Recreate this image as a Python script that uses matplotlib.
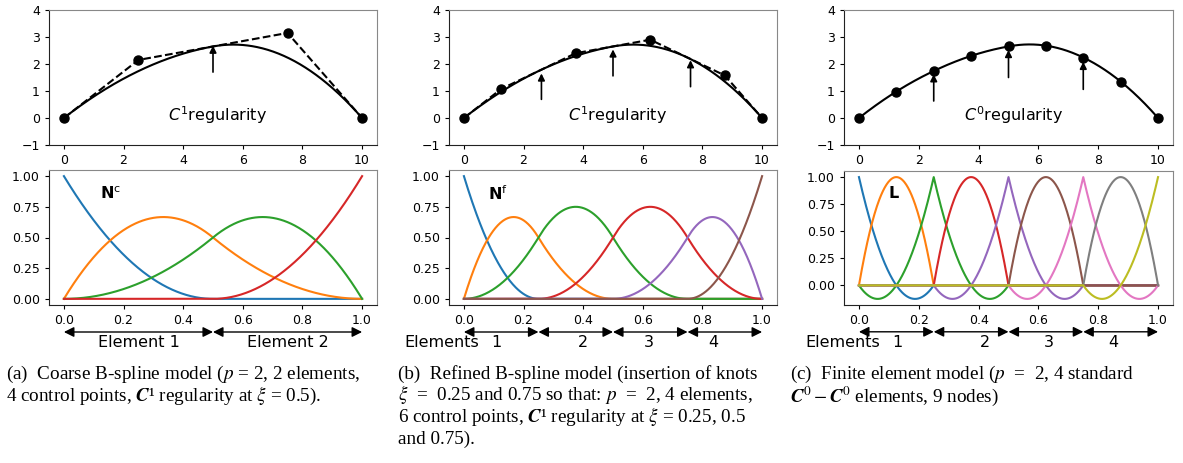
import numpy as np
import matplotlib
matplotlib.use("Agg")
from matplotlib import pyplot as plt

# data
p = 2
knots_coarse = [0, 0, 0, 0.5, 1, 1, 1]
ctrl_x_coarse = [0, 2.5, 7.5, 10]
ctrl_y_coarse = [0, 2.15, 3.15, 0]

knots_fine = [0, 0, 0, 0.25, 0.5, 0.75, 1, 1, 1]
ctrl_x_fine = [0, 1.25, 3.75, 6.25, 8.75, 10]
ctrl_y_fine = [0, 1.075, 2.4, 2.9, 1.575, 0]

fe_nodes_xi = [0, 0.125, 0.25, 0.375, 0.5, 0.625, 0.75, 0.875, 1]
fe_nodes_x = [0, 1.25, 2.5, 3.75, 5, 6.25, 7.5, 8.75, 10]
fe_nodes_y = [0, 0.98, 1.74, 2.3, 2.65, 2.68, 2.24, 1.35, 0]

# regularity arrows (x, tail y, tip y)
arrows_a = [(5.0, 1.7, 2.68)]
arrows_b = [(2.6, 0.69, 1.65), (5.0, 1.56, 2.54), (7.6, 1.16, 2.14)]
arrows_c = [(2.5, 0.63, 1.62), (5.0, 1.5, 2.52), (7.5, 1.06, 2.08)]

elem_bounds_a = [0, 0.5, 1]
elem_bounds_b = [0, 0.25, 0.5, 0.75, 1]
elem_labels_a = ["Element 1", "Element 2"]
elem_num_pos_b = [0.11, 0.40, 0.62, 0.835]
elem_num_pos_c = [0.13, 0.42, 0.635, 0.85]
elem_nums = ["1", "2", "3", "4"]

captions = [
    ["(a)  Coarse B-spline model ($p$ = 2, 2 elements,",
     "4 control points, $\\mathbfit{C}$\u00b9 regularity at $\\xi$ = 0.5)."],
    ["(b)  Refined B-spline model (insertion of knots",
     "$\\xi$  =  0.25 and 0.75 so that: $p$  =  2, 4 elements,",
     "6 control points, $\\mathbfit{C}$\u00b9 regularity at $\\xi$ = 0.25, 0.5",
     "and 0.75)."],
    ["(c)  Finite element model ($p$  =  2, 4 standard",
     "$\\mathbfit{C}^0 - \\mathbfit{C}^0$ elements, 9 nodes)"],
]


def bspline_basis(knots, deg, xi):
    t = np.asarray(knots, float)
    N = np.zeros((len(xi), len(t) - 1))
    for i in range(len(t) - 1):
        N[:, i] = (xi >= t[i]) & (xi < t[i + 1])
    last = np.where(t[:-1] < t[1:])[0][-1]
    N[xi >= t[-1], last] = 1
    for k in range(1, deg + 1):
        Nk = np.zeros((len(xi), len(t) - 1 - k))
        for i in range(len(t) - 1 - k):
            d1 = t[i + k] - t[i]
            d2 = t[i + k + 1] - t[i + 1]
            if d1 > 0:
                Nk[:, i] += (xi - t[i]) / d1 * N[:, i]
            if d2 > 0:
                Nk[:, i] += (t[i + k + 1] - xi) / d2 * N[:, i + 1]
        N = Nk
    return N


def lagrange_basis(nodes, xi):
    nodes = np.asarray(nodes, float)
    L = np.zeros((len(xi), len(nodes)))
    for e in range((len(nodes) - 1) // 2):
        ids = [2 * e, 2 * e + 1, 2 * e + 2]
        m = (xi >= nodes[ids[0]]) & (xi <= nodes[ids[2]])
        for j in range(3):
            v = np.ones(m.sum())
            for k in range(3):
                if k != j:
                    v *= (xi[m] - nodes[ids[k]]) / (nodes[ids[j]] - nodes[ids[k]])
            L[m, ids[j]] = v
    return L


xi = np.linspace(0, 1, 501)
Nc = bspline_basis(knots_coarse, p, xi)
Nf = bspline_basis(knots_fine, p, xi)
Lf = lagrange_basis(fe_nodes_xi, xi)

W, H = 1183, 463
fig = plt.figure(figsize=(W / 100, H / 100), dpi=100)


def add_ax(l, r, t, b):
    ax = fig.add_axes([l / W, 1 - b / H, (r - l) / W, (b - t) / H])
    for s in ["left", "bottom"]:
        ax.spines[s].set_color("#222222")
    for s in ["top", "right"]:
        ax.spines[s].set_color("#888888")
    ax.tick_params(labelsize=9, length=3, width=0.8)
    return ax


def top_panel(ax, cx, cy, curve_x, curve_y, arrows, dashed, label):
    ax.plot(curve_x, curve_y, color="black", lw=1.5)
    if dashed:
        ax.plot(cx, cy, "--", color="black", lw=1.5)
    ax.plot(cx, cy, "o", color="black", ms=6.5)
    for x, y0, y1 in arrows:
        ax.annotate("", xy=(x, y1), xytext=(x, y0),
                    arrowprops=dict(arrowstyle="-|>", color="black", lw=1.2,
                                    mutation_scale=10, shrinkA=0, shrinkB=0))
    ax.text(3.5, 0.1, label, fontsize=11.5, va="center")
    ax.set_xlim(-0.5, 10.5)
    ax.set_ylim(-1, 4)
    ax.set_xticks(range(0, 11, 2))
    ax.set_yticks(range(-1, 5))


def elem_arrows(ax, bounds):
    for a, b in zip(bounds[:-1], bounds[1:]):
        ax.annotate("", xy=(b, -0.2), xytext=(a, -0.2),
                    xycoords=("data", "axes fraction"),
                    textcoords=("data", "axes fraction"),
                    arrowprops=dict(arrowstyle="<|-|>", color="black", lw=1.0,
                                    mutation_scale=15, shrinkA=0, shrinkB=0))


# (a)
ax = add_ax(49, 377, 10, 145)
curve = Nc @ np.array([ctrl_x_coarse, ctrl_y_coarse]).T
top_panel(ax, ctrl_x_coarse, ctrl_y_coarse, curve[:, 0], curve[:, 1],
          arrows_a, True, "$C^1$regularity")
ax = add_ax(49, 377, 170, 305)
for i in range(Nc.shape[1]):
    ax.plot(xi, Nc[:, i], lw=1.5)
ax.text(0.12, 0.86, r"$\mathbf{N}^{\mathrm{c}}$", fontsize=11.5, va="center")
ax.set_yticks([0, 0.25, 0.5, 0.75, 1.0])
elem_arrows(ax, elem_bounds_a)
for x, s in zip([0.25, 0.75], elem_labels_a):
    ax.text(x, -0.28, s, transform=ax.get_xaxis_transform(), ha="center",
            va="center", fontsize=11.5)

# (b)
ax = add_ax(449, 777, 10, 145)
curve = Nf @ np.array([ctrl_x_fine, ctrl_y_fine]).T
top_panel(ax, ctrl_x_fine, ctrl_y_fine, curve[:, 0], curve[:, 1],
          arrows_b, True, "$C^1$regularity")
ax = add_ax(449, 777, 170, 305)
for i in range(Nf.shape[1]):
    ax.plot(xi, Nf[:, i], lw=1.5)
ax.text(0.08, 0.86, r"$\mathbf{N}^{\mathrm{f}}$", fontsize=11.5, va="center")
ax.set_yticks([0, 0.25, 0.5, 0.75, 1.0])
elem_arrows(ax, elem_bounds_b)
ax.text(-0.2, -0.28, "Elements", transform=ax.get_xaxis_transform(),
        ha="left", va="center", fontsize=11.5)
for x, s in zip(elem_num_pos_b, elem_nums):
    ax.text(x, -0.28, s, transform=ax.get_xaxis_transform(), ha="center",
            va="center", fontsize=11.5)

# (c)
ax = add_ax(844, 1173, 10, 145)
curve_y = Lf @ np.array(fe_nodes_y)
curve_x = Lf @ np.array(fe_nodes_x)
top_panel(ax, fe_nodes_x, fe_nodes_y, curve_x, curve_y,
          arrows_c, False, "$C^0$regularity")
ax = add_ax(844, 1173, 171, 305)
for i in range(Lf.shape[1]):
    ax.plot(xi, Lf[:, i], lw=1.5)
ax.text(0.096, 0.85, r"$\mathbf{L}$", fontsize=11.5, va="center")
ax.set_yticks([0, 0.25, 0.5, 0.75, 1.0])
elem_arrows(ax, elem_bounds_b)
ax.text(-0.18, -0.28, "Elements", transform=ax.get_xaxis_transform(),
        ha="left", va="center", fontsize=11.5)
for x, s in zip(elem_num_pos_c, elem_nums):
    ax.text(x, -0.28, s, transform=ax.get_xaxis_transform(), ha="center",
            va="center", fontsize=11.5)

# captions
for x0, lines in zip([6, 398, 790], captions):
    for k, line in enumerate(lines):
        fig.text(x0 / W, 1 - (379 + 21.5 * k + (1.5 if "^0" in line else 0)) / H,
                 line, ha="left", va="baseline", family="Liberation Serif",
                 fontsize=13.8, math_fontfamily="stix")

fig.savefig("out.png", dpi=100)
